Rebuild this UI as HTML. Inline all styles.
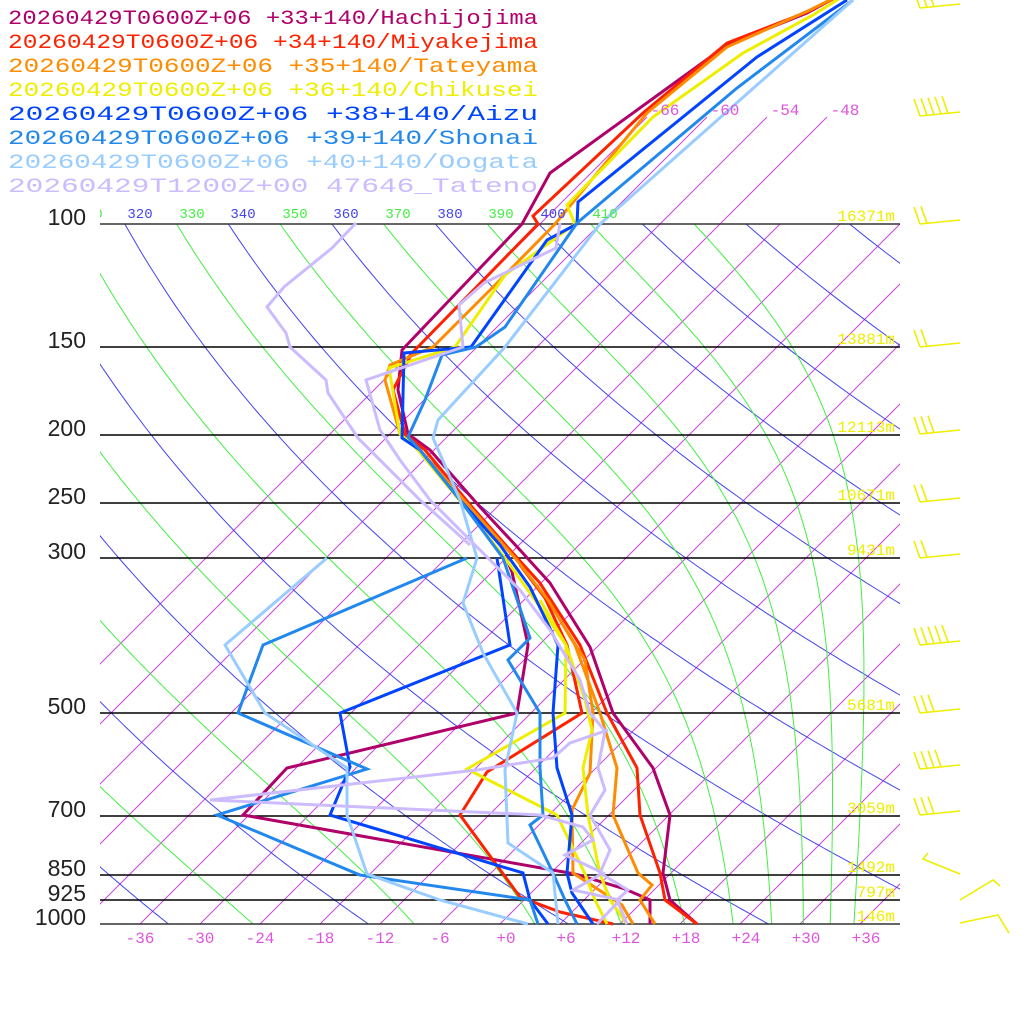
<!DOCTYPE html>
<html><head><meta charset="utf-8">
<style>
html,body{margin:0;padding:0;background:#fff;}
svg{display:block;}
text{font-family:"Liberation Mono",monospace;}
</style></head>
<body>
<svg id="s" width="1024" height="1024" viewBox="0 0 1024 1024" xmlns="http://www.w3.org/2000/svg">
<defs>
<clipPath id="cp"><rect x="100" y="224" width="800" height="700"/></clipPath>
<clipPath id="ci"><rect x="100" y="100" width="800" height="824"/></clipPath>
<clipPath id="ct"><rect x="100" y="195" width="800" height="30"/></clipPath>
</defs>
<g id="bg"></g>
<g id="lines"></g>
<g id="txt"></g>
</svg>
<script>
var NS="http://www.w3.org/2000/svg";
function el(tag,attrs,parent,text){var e=document.createElementNS(NS,tag);for(var k in attrs)e.setAttribute(k,attrs[k]);if(text!==undefined)e.textContent=text;parent.appendChild(e);return e;}
var bg=document.getElementById('bg'),ln=document.getElementById('lines'),tx=document.getElementById('txt');
function Y(p){return 924-304*Math.log(1000/p);}
function X(Tc,y){return 500+10*Tc+(924-y);}
var gi=el('g',{'clip-path':'url(#ci)'},bg);
for(var T=-66;T<=40;T+=6){
  var ytop=(T<=-48)?117:224;
  el('line',{x1:X(T,924),y1:924,x2:X(T,ytop),y2:ytop,stroke:'#cc44dd','stroke-width':1},gi);
}
var ga=el('g',{'clip-path':'url(#cp)'},bg);
for(var th=200;th<=480;th+=20){
  var pts=[];
  for(var p=100;p<=1000;p+=5){var Tk=th*Math.pow(p/1000,0.286);var y=Y(p);pts.push(X(Tk-273.15,y).toFixed(1)+','+y.toFixed(1));}
  el('polyline',{points:pts.join(' '),fill:'none',stroke:'#4444ee','stroke-width':1},ga);
}
function es(Tc){return 6.112*Math.exp(17.67*Tc/(Tc+243.5));}
function dTdp(p,Tk){var Tc=Tk-273.15;var e=es(Tc);var rs=0.622*e/(p-e);var Rd=287,cp=1005,Lv=2.5e6;
 return (1/p)*(Rd*Tk+Lv*rs)/(cp+Lv*Lv*rs*0.622/(Rd*Tk*Tk));}
for(var th=210;th<=430;th+=20){
  var Tk=th*Math.pow(0.1,0.286);var p=100;var pts=[];
  while(p<=1000){var y=Y(p);pts.push(X(Tk-273.15,y).toFixed(1)+','+y.toFixed(1));
    var h=2;var k1=dTdp(p,Tk);var k2=dTdp(p+h/2,Tk+k1*h/2);Tk+=k2*h;p+=h;}
  el('polyline',{points:pts.join(' '),fill:'none',stroke:'#44ee44','stroke-width':1},ga);
}
var lev=[[100,'100'],[150,'150'],[200,'200'],[250,'250'],[300,'300'],[500,'500'],[700,'700'],[850,'850'],[925,'925'],[1000,'1000']];
var hts=['16371m','13881m','12113m','10671m','9431m','5681m','3059m','1492m','797m','146m'];
var gth=el('g',{'clip-path':'url(#ct)'},tx);
var thl=[[310,90,'#44ee44'],[320,140,'#4444ee'],[330,192,'#44ee44'],[340,243,'#4444ee'],[350,295,'#44ee44'],[360,346,'#4444ee'],[370,398,'#44ee44'],[380,450,'#4444ee'],[390,501,'#44ee44'],[400,553,'#4444ee'],[410,605,'#44ee44']];
thl.forEach(function(t){el('text',{x:t[1],y:218,'text-anchor':'middle','font-size':14,fill:t[2]},gth,String(t[0]));});
lev.forEach(function(l,i){var y=Math.round(Y(l[0]));
  el('line',{x1:100,y1:y,x2:900,y2:y,stroke:(l[0]==1000||l[0]==100)?'#333':'#000','stroke-width':1.6},bg);
  el('text',{x:86,y:y+1,'text-anchor':'end','font-size':23,fill:'#222',style:'font-family:"Liberation Sans",sans-serif'},tx,l[1]);
  el('text',{x:895,y:y-3,'text-anchor':'end','font-size':16,fill:'#eeee00'},tx,hts[i]);
});
for(var T=-36;T<=36;T+=6){var s=(T<0?'-'+(-T):'+'+T);el('text',{x:500+10*T+(T>=0?6:0),y:943,'text-anchor':'middle','font-size':16,fill:'#dd55dd'},tx,s);}
[-66,-60,-54,-48].forEach(function(T,i){el('text',{x:665+60*i,y:115,'text-anchor':'middle','font-size':16,fill:'#dd55dd'},tx,String(T));});
var S=[
['#b0006a','20260429T0600Z+06 +33+140/Hachijojima',
 [[697,924],[670,900],[663,873],[670,815],[653,768],[613,713],[590,647],[550,583],[520,550],[480,507],[430,450],[408,434],[398,390],[402,350],[522,224],[550,173],[727,45],[807,13],[840,-5]],
 [[650,924],[650,900],[625,889],[575,874],[243,815],[287,768],[517,713],[528,645],[512,572],[505,555]]],
['#ff2200','20260429T0600Z+06 +34+140/Miyakejima',
 [[697,924],[665,900],[660,873],[640,815],[637,768],[607,713],[580,645],[540,583],[510,550],[472,507],[425,450],[405,434],[393,390],[412,353],[538,224],[533,216],[643,113],[727,43],[807,12],[840,-5]],
 [[613,924],[560,912],[520,897],[460,815],[487,772],[582,713],[567,645],[545,598],[520,565]]],
['#ff8c00','20260429T0600Z+06 +35+140/Tateyama',
 [[655,924],[640,900],[652,885],[638,873],[613,815],[617,768],[600,713],[575,645],[548,600],[515,558],[470,507],[420,450],[400,434],[385,380],[390,365],[433,347],[500,280],[555,224],[647,113],[727,47],[810,10],[840,-5]],
 [[633,924],[622,905],[573,873],[572,810],[590,773],[593,713],[585,660],[560,620]]],
['#eeee00','20260429T0600Z+06 +36+140/Chikusei',
 [[627,924],[610,900],[600,874],[588,815],[583,768],[592,730],[585,700],[566,645],[535,600],[505,558],[465,507],[418,450],[400,434],[389,368],[455,347],[505,275],[575,224],[567,205],[653,117],[743,53],[813,15],[845,-5]],
 [[607,924],[595,900],[585,874],[557,815],[467,769],[565,713],[566,645],[540,600]]],
['#0044ff','20260429T0600Z+06 +38+140/Aizu',
 [[593,924],[572,893],[567,873],[572,815],[557,768],[553,713],[558,645],[530,587],[500,545],[460,500],[420,450],[402,438],[404,353],[471,347],[547,240],[577,224],[578,202],[757,57],[847,0]],
 [[548,924],[530,900],[523,873],[330,815],[350,767],[340,713],[510,645],[497,558]]],
['#2288ee','20260429T0600Z+06 +39+140/Shonai',
 [[577,924],[565,900],[553,873],[530,825],[543,815],[540,768],[540,713],[508,660],[530,638],[503,558],[460,500],[420,450],[408,437],[425,400],[442,355],[476,347],[505,327],[577,223],[737,88],[853,0]],
 [[538,924],[530,900],[360,875],[217,815],[367,769],[238,713],[263,645],[467,558]]],
['#99ccff','20260429T0600Z+06 +40+140/Oogata',
 [[558,924],[553,873],[508,843],[505,770],[517,713],[483,653],[463,603],[477,558],[460,500],[433,438],[438,420],[505,347],[600,224],[853,0]],
 [[528,924],[440,900],[367,874],[347,815],[347,768],[265,713],[225,645],[327,558]]],
['#ccbbff','20260429T1200Z+00 47646_Tateno',
 [[627,924],[617,900],[628,890],[600,873],[610,850],[590,815],[605,790],[598,768],[605,731],[590,713],[580,680],[550,630],[520,590],[470,540],[430,500],[400,460],[380,430],[366,380],[463,347],[459,305],[484,283],[556,248],[560,223]],
 [[597,924],[620,900],[573,890],[603,873],[565,855],[593,840],[583,827],[540,815],[210,800],[477,770],[553,758],[570,743],[608,730]],
 [[356,223],[332,248],[284,287],[267,307],[286,333],[290,347],[326,380],[328,393],[358,438],[420,500],[470,545]]]
];
S.forEach(function(s,i){
  for(var j=2;j<s.length;j++){
    el('polyline',{points:s[j].map(function(p){return p.join(',')}).join(' '),fill:'none',stroke:s[0],'stroke-width':3,'stroke-linejoin':'miter'},ln);
  }
  el('text',{x:8,y:24+24*i,'font-size':20,fill:s[0],textLength:530,lengthAdjust:'spacingAndGlyphs'},tx,s[1]);
});
var gb=el('g',{stroke:'#eeee00','stroke-width':1.6,fill:'none'},tx);
var barbs=[[8,3],[116,5],[224,2],[347,2],[434,3],[502,2],[558,2],[645,5],[713,3],[769,4],[815,3]];
barbs.forEach(function(b){var y=b[0];var n=b[1];
  el('line',{x1:960,y1:y-4,x2:920,y2:y},gb);
  for(var k=0;k<n;k++){var bx=920+k*7;var by=y-0.7*k;el('line',{x1:bx,y1:by,x2:bx-6,y2:by-17},gb);}
});
el('polyline',{points:'960,874 923,859 928,853'},gb);
el('polyline',{points:'960,900 993,880 1000,886'},gb);
el('polyline',{points:'960,923 998,915 1009,933'},gb);
</script>
</body></html>
